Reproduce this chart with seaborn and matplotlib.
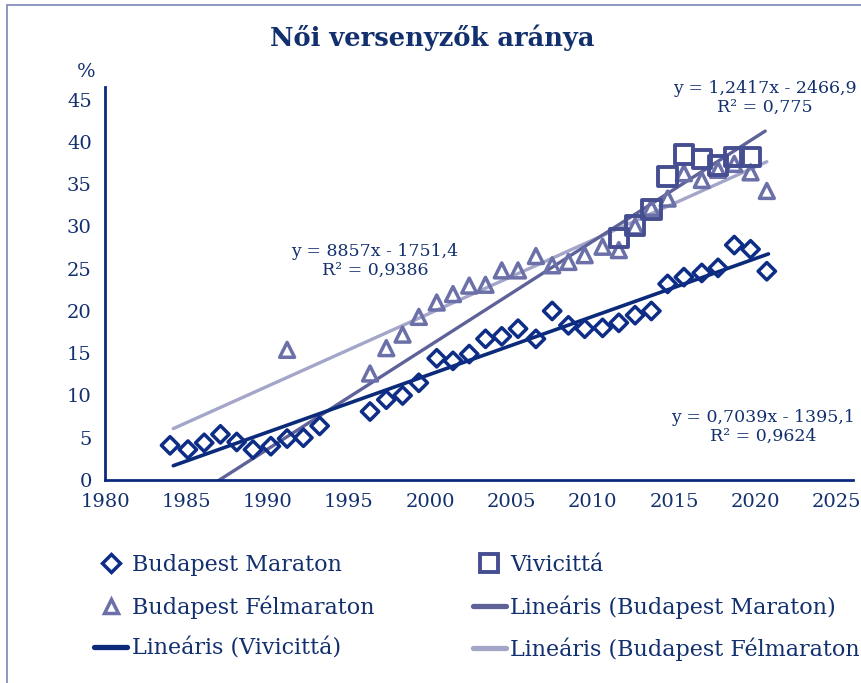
import matplotlib.pyplot as plt
import matplotlib.patches as mpatches
from matplotlib.lines import Line2D
import numpy as np
import seaborn as sns


# Adatok (a diagramról leolvasva)
maraton_ev = [1984.0, 1985.1, 1986.1, 1987.1, 1988.1, 1989.1, 1990.2, 1991.2, 1992.2, 1993.2,
              1996.3, 1997.3, 1998.3, 1999.3, 2000.4, 2001.4, 2002.4, 2003.4, 2004.4, 2005.4,
              2006.5, 2007.5, 2008.5, 2009.5, 2010.6, 2011.6, 2012.6, 2013.6, 2014.6, 2015.6,
              2016.7, 2017.7, 2018.7, 2019.7, 2020.7]
maraton_arany = [4.1, 3.6, 4.4, 5.4, 4.5, 3.6, 4.0, 4.9, 5.0, 6.4,
                 8.1, 9.5, 10.0, 11.5, 14.4, 14.1, 14.9, 16.7, 17.0, 17.9,
                 16.7, 20.0, 18.3, 17.9, 18.0, 18.6, 19.5, 20.0, 23.2, 24.0,
                 24.5, 25.1, 27.8, 27.3, 24.7]

felmaraton_ev = [1991.2, 1996.3, 1997.3, 1998.3, 1999.3, 2000.4, 2001.4, 2002.4, 2003.4, 2004.4,
                 2005.4, 2006.5, 2007.5, 2008.5, 2009.5, 2010.6, 2011.6, 2012.6, 2013.6, 2014.6,
                 2015.6, 2016.7, 2017.7, 2018.7, 2019.7, 2020.7]
felmaraton_arany = [15.4, 12.6, 15.6, 17.2, 19.3, 21.0, 22.0, 23.0, 23.1, 24.8,
                    24.8, 26.5, 25.4, 25.8, 26.6, 27.6, 27.2, 30.0, 32.2, 33.3,
                    36.3, 35.5, 36.7, 37.4, 36.4, 34.2]

vivi_ev = [2011.6, 2012.6, 2013.6, 2014.6, 2015.6, 2016.7, 2017.7, 2018.7, 2019.7]
vivi_arany = [28.6, 30.1, 32.0, 35.9, 38.5, 38.0, 37.2, 38.2, 38.2]

# trendvonalak x tartománya
trend_maraton_x = [1984.2, 2020.8]
trend_vivi_x = [1980.0, 2020.6]
trend_felmaraton_x = [1984.2, 2020.7]

y_ticks = [0, 5, 10, 15, 20, 25, 30, 35, 40, 45]
x_ticks = [1980, 1985, 1990, 1995, 2000, 2005, 2010, 2015, 2020, 2025]

# szinek
navy = '#0b2a7e'
c_diamond = '#0d2d86'
c_square = '#454e90'
c_triangle = '#6b70a8'
c_lin_bm = '#5e6299'
c_lin_vivi = '#0b2a7a'
c_lin_bf = '#a3a6c8'
txt = '#13306e'

sns.set_style('white')
plt.rcParams['font.family'] = ['DejaVu Serif']

fig = plt.figure(figsize=(8.62, 6.83), dpi=100)
ax = fig.add_axes([105 / 862, 1 - 480 / 683, (853 - 105) / 862, (480 - 87) / 683])


def trend(xs, ys, rng):
    m, b = np.polyfit(xs, ys, 1)
    xx = np.array(rng)
    return xx, m * xx + b


# trendvonalak
x1, y1 = trend(felmaraton_ev, felmaraton_arany, trend_felmaraton_x)
sns.lineplot(x=x1, y=y1, color=c_lin_bf, linewidth=2.4, ax=ax)
x2, y2 = trend(vivi_ev, vivi_arany, trend_vivi_x)
sns.lineplot(x=x2, y=y2, color=c_lin_bm, linewidth=2.4, ax=ax)
x3, y3 = trend(maraton_ev, maraton_arany, trend_maraton_x)
sns.lineplot(x=x3, y=y3, color=c_lin_vivi, linewidth=2.6, ax=ax)

# pontok
sns.scatterplot(x=maraton_ev, y=maraton_arany, marker='D', s=78, color='none',
                edgecolor=c_diamond, linewidth=2.5, ax=ax, zorder=3)
sns.scatterplot(x=felmaraton_ev, y=felmaraton_arany, marker='^', s=115, color='none',
                edgecolor=c_triangle, linewidth=2.5, ax=ax, zorder=3)
sns.scatterplot(x=vivi_ev, y=vivi_arany, marker='s', s=175, color='none',
                edgecolor=c_square, linewidth=2.8, ax=ax, zorder=3)

ax.set_xlim(1980, 2026.0)
ax.set_ylim(0, 46.5)
ax.set_xticks(x_ticks)
ax.set_yticks(y_ticks)
ax.tick_params(axis='both', colors=navy, labelcolor=txt, labelsize=14, width=1.6, length=6,
               direction='out')
for s in ['top', 'right']:
    ax.spines[s].set_visible(False)
for s in ['left', 'bottom']:
    ax.spines[s].set_color(navy)
    ax.spines[s].set_linewidth(2)
ax.set_xlabel('')
ax.set_ylabel('')

fig.text(86 / 862, 1 - 72 / 683, '%', color=txt, fontsize=14, ha='center', va='center')
fig.text(432 / 862, 1 - 38 / 683, 'Női versenyzők aránya', color=txt, fontsize=18.5,
         fontweight='bold', ha='center', va='center')

# egyenletek
ax.annotate('y = 1,2417x - 2466,9\nR² = 0,775', xy=(765 / 862, 1 - 98 / 683),
            xycoords='figure fraction', ha='center', va='center', color=txt,
            fontsize=12.5, linespacing=1.2)
ax.annotate('y = 8857x - 1751,4\nR² = 0,9386', xy=(375 / 862, 1 - 261 / 683),
            xycoords='figure fraction', ha='center', va='center', color=txt,
            fontsize=12.5, linespacing=1.2)
ax.annotate('y = 0,7039x - 1395,1\nR² = 0,9624', xy=(763 / 862, 1 - 427 / 683),
            xycoords='figure fraction', ha='center', va='center', color=txt,
            fontsize=12.5, linespacing=1.2)

# jelmagyarazat
handles = [
    Line2D([], [], marker='D', ls='none', mfc='none', mec=c_diamond, mew=2.5, ms=9.5),
    Line2D([], [], marker='^', ls='none', mfc='none', mec=c_triangle, mew=2.5, ms=10.5),
    Line2D([], [], color=c_lin_vivi, lw=3.8),
    Line2D([], [], marker='s', ls='none', mfc='none', mec=c_square, mew=2.8, ms=13),
    Line2D([], [], color=c_lin_bm, lw=3.8),
    Line2D([], [], color=c_lin_bf, lw=3.8),
]
# az utolsó felirat a referencián is le van vágva
labels = ['Budapest Maraton', 'Budapest Félmaraton', 'Lineáris (Vivicittá)',
          'Vivicittá', 'Lineáris (Budapest Maraton)', 'Lineáris (Budapest Félmaraton']
leg = fig.legend(handles, labels, loc='upper left', bbox_to_anchor=(94 / 862, 1 - 554 / 683),
                 ncol=2, frameon=False, fontsize=16, handlelength=1.5, handletextpad=0.2,
                 labelspacing=0.86, columnspacing=4.42, borderaxespad=0, borderpad=0)
for t in leg.get_texts():
    t.set_color(txt)

fig.patches.append(mpatches.Rectangle((7 / 862, -0.1), 2, 1.1 - 5 / 683,
                                      transform=fig.transFigure, fill=False,
                                      edgecolor='#7c84b6', linewidth=1.2))

fig.savefig('out.png', dpi=100)
